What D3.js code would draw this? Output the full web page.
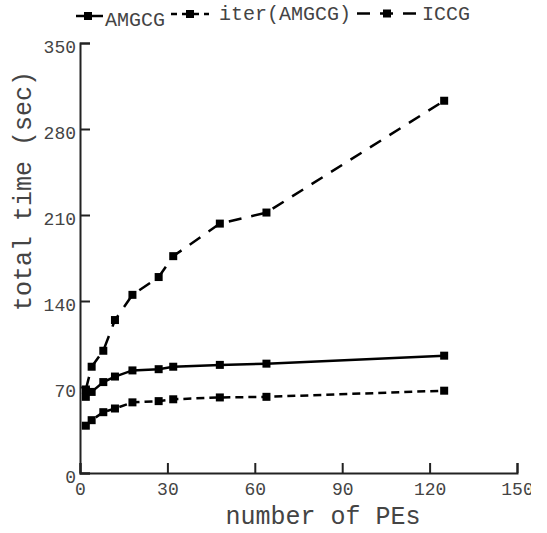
<!doctype html>
<html>
<head>
<style>
    body { margin: 0; background: #fff; }
    svg text { font-family: "Liberation Mono", "Courier New", monospace; fill: #444; }
</style>
<script src="https://d3js.org/d3.v7.min.js"></script>
</head>
<body>
<div id="chart"></div>
<script>
    // values
    var pes = [2, 4, 8, 12, 18, 27, 32, 48, 64, 125];
    var amgcg = [62, 66, 74, 78.5, 83.5, 84.5, 86.5, 88, 89, 95.5];
    var iterAmgcg = [38.5, 43, 49.5, 52.5, 57.5, 58.5, 60, 61.5, 62, 67];
    var iccg = [68, 86.5, 99.5, 124.5, 145, 159.5, 176.5, 203, 212, 303];
    var xTicks = [0, 30, 60, 90, 120, 150];
    var yTicks = [0, 70, 140, 210, 280, 350];

    var seriesNames = ["AMGCG", "iter(AMGCG)", "ICCG"];
    var seriesValues = [amgcg, iterAmgcg, iccg];
    var dashes = [null, "8,5", "13,10"];

    // the reference is cut just through the "150" label, so the svg is a bit narrower
    var svg = d3.select("#chart").append("svg")
        .attr("width", 531)
        .attr("height", 533);

    var x = d3.scaleLinear().domain([0, 150]).range([80, 517]);
    var y = d3.scaleLinear().domain([0, 350]).range([473, 43]);

    // axes, ticks pointing inward
    var xAxis = svg.append("g")
        .attr("transform", "translate(0,473)")
        .call(d3.axisBottom(x).tickValues(xTicks).tickSize(-10).tickPadding(14));
    var yAxis = svg.append("g")
        .attr("transform", "translate(80,0)")
        .call(d3.axisLeft(y).tickValues(yTicks).tickSize(-10).tickPadding(4));

    [xAxis, yAxis].forEach(function(a) {
        a.select(".domain").attr("stroke", "#222").attr("stroke-width", 2);
        a.selectAll(".tick line").attr("stroke", "#222").attr("stroke-width", 2);
        a.selectAll(".tick text")
            .style("font-family", "Liberation Mono, monospace")
            .style("font-size", "18px")
            .attr("fill", "#444");
    });
    yAxis.selectAll(".tick text").attr("dy", "0.55em");
    xAxis.selectAll(".tick text").attr("dy", "0.45em");

    // lines + markers
    var line = d3.line()
        .x(function(d) { return x(d[0]); })
        .y(function(d) { return y(d[1]); });

    seriesValues.forEach(function(vals, i) {
        var pts = pes.map(function(p, j) { return [p, vals[j]]; });
        svg.append("path")
            .datum(pts)
            .attr("d", line)
            .attr("fill", "none")
            .attr("stroke", "#000")
            .attr("stroke-width", 2.5)
            .attr("stroke-dasharray", dashes[i]);
        svg.append("g").selectAll("rect")
            .data(pts)
            .enter()
            .append("rect")
            .attr("x", function(d) { return x(d[0]) - 4; })
            .attr("y", function(d) { return y(d[1]) - 4; })
            .attr("width", 8)
            .attr("height", 8)
            .attr("fill", "#000");
    });

    // legend
    var legend = [
        {x1: 76, x2: 103, mx: 88, ly: 16, tx: 105, ty: 26},
        {x1: 171, x2: 209, mx: 190, ly: 14, tx: 219, ty: 20},
        {x1: 357, x2: 416, mx: 387, ly: 13.5, tx: 422, ty: 20}
    ];
    legend.forEach(function(l, i) {
        svg.append("line")
            .attr("x1", l.x1).attr("x2", l.x2)
            .attr("y1", l.ly).attr("y2", l.ly)
            .attr("stroke", "#000")
            .attr("stroke-width", 2.5)
            .attr("stroke-dasharray", i == 1 ? "6,5" : dashes[i]);
        svg.append("rect")
            .attr("x", l.mx - 4).attr("y", l.ly - 4)
            .attr("width", 8).attr("height", 8)
            .attr("fill", "#000");
        svg.append("text")
            .attr("x", l.tx).attr("y", l.ty)
            .style("font-size", "20px")
            .text(seriesNames[i]);
    });

    // axis titles
    svg.append("text")
        .attr("x", 323).attr("y", 524)
        .attr("text-anchor", "middle")
        .style("font-size", "25px")
        .text("number of PEs");

    svg.append("text")
        .attr("transform", "translate(31,191) rotate(-90)")
        .attr("text-anchor", "middle")
        .style("font-size", "25px")
        .text("total time (sec)");
</script>
</body>
</html>
